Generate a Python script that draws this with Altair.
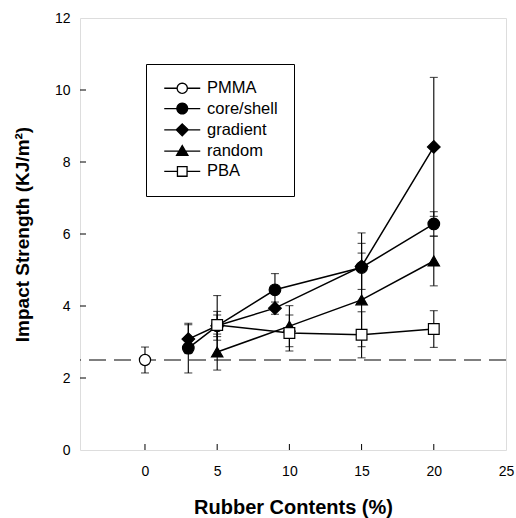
import math
import altair as alt
import pandas as pd

# ---- data ----
series_names = ["PMMA", "core/shell", "gradient", "random", "PBA"]

pmma_x = [0]
pmma_y = [2.5]
pmma_err = [0.36]

cs_x = [3, 5, 9, 15, 20]
cs_y = [2.83, 3.45, 4.45, 5.07, 6.28]
cs_err = [0.69, 0.40, 0.45, 0.96, 0.34]

gr_x = [3, 5, 9, 15, 20]
gr_y = [3.08, 3.45, 3.94, 5.10, 8.42]
gr_err = [0.40, 0.30, 0.17, 0.64, 1.93]

rd_x = [5, 10, 15, 20]
rd_y = [2.72, 3.44, 4.17, 5.25]
rd_err = [0.50, 0.57, 1.30, 0.69]

pba_x = [5, 10, 15, 20]
pba_y = [3.47, 3.25, 3.20, 3.36]
pba_err = [0.82, 0.50, 0.64, 0.51]

baseline_value = [2.5]
x_tick_values = [0, 5, 10, 15, 20, 25]
y_tick_values = [0, 2, 4, 6, 8, 10, 12]

series_data = [
    ("PMMA", pmma_x, pmma_y, pmma_err),
    ("core/shell", cs_x, cs_y, cs_err),
    ("gradient", gr_x, gr_y, gr_err),
    ("random", rd_x, rd_y, rd_err),
    ("PBA", pba_x, pba_y, pba_err),
]
# marker style per series: (shape, fill, size)
marker_style = {
    "PMMA": ("circle", "white", 125),
    "core/shell": ("circle", "black", 135),
    "gradient": ("diamond", "black", 160),
    "random": ("triangle-up", "black", 130),
    "PBA": ("square", "white", 115),
}

rows = []
for name, xs, ys, es in series_data:
    for x, y, e in zip(xs, ys, es):
        rows.append({"series": name, "x": x, "y": y, "lo": y - e, "hi": y + e})
df = pd.DataFrame(rows)

FONT = "Liberation Sans"
W, H = 426, 432

xscale = alt.Scale(domain=[-4.5, 25], nice=False, zero=False)
yscale = alt.Scale(domain=[0, 12], nice=False, zero=False)

xaxis = alt.Axis(values=x_tick_values, format="d", title="Rubber Contents (%)",
                 ticks=False, tickSize=0, domain=False, grid=False,
                 labelFont=FONT, labelFontSize=14, labelPadding=14, labelColor="black",
                 labelFlush=False, titleFont=FONT, titleFontSize=20, titleFontWeight="bold",
                 titlePadding=19, titleColor="black")
yaxis = alt.Axis(values=y_tick_values, format="d", title="Impact Strength (KJ/m²)",
                 ticks=False, tickSize=0, domain=False, grid=False,
                 labelFont=FONT, labelFontSize=14, labelPadding=10, labelColor="black",
                 labelFlush=False, titleFont=FONT, titleFontSize=19, titleFontWeight="bold",
                 titlePadding=22, titleColor="black")

X = alt.X("x:Q", scale=xscale, axis=xaxis)
Y = alt.Y("y:Q", scale=yscale, axis=yaxis)

base = alt.Chart(df)

baseline = alt.Chart(pd.DataFrame({"y": baseline_value})).mark_rule(
    color="black", strokeWidth=1.1, strokeDash=[17, 8]
).encode(y=alt.Y("y:Q", scale=yscale, axis=yaxis))

err_rule = base.mark_rule(color="black", strokeWidth=1.1).encode(
    x=X, y=alt.Y("lo:Q", scale=yscale, axis=yaxis), y2="hi:Q")
cap_lo = base.mark_tick(color="black", orient="horizontal", size=8, thickness=1.1).encode(
    x=X, y=alt.Y("lo:Q", scale=yscale, axis=yaxis))
cap_hi = base.mark_tick(color="black", orient="horizontal", size=8, thickness=1.1).encode(
    x=X, y=alt.Y("hi:Q", scale=yscale, axis=yaxis))

lines = base.transform_filter(alt.datum.series != "PMMA").mark_line(
    color="black", strokeWidth=1.5
).encode(x=X, y=Y, detail="series:N", order="x:Q")

point_layers = []
for name in series_names:
    shp, fil, sz = marker_style[name]
    point_layers.append(
        base.transform_filter(alt.datum.series == name).mark_point(
            shape=shp, filled=True, fill=fil, stroke="black", strokeWidth=1.2,
            size=sz, opacity=1
        ).encode(x=X, y=Y)
    )

# inward tick marks on the frame
xt = alt.Chart(pd.DataFrame({"v": x_tick_values[:-1]})).mark_rule(color="black", strokeWidth=1).encode(
    x=alt.X("v:Q", scale=xscale, axis=xaxis), y=alt.value(H), y2=alt.value(H - 6))
yt = alt.Chart(pd.DataFrame({"v": y_tick_values[1:-1]})).mark_rule(color="black", strokeWidth=1).encode(
    y=alt.Y("v:Q", scale=yscale, axis=yaxis), x=alt.value(0), x2=alt.value(6))

# ---- legend symbols: line segment + marker (custom paths) ----
def circle_path(cx, r, n=24):
    pts = []
    for i in range(n):
        a = 2 * math.pi * i / n
        pts.append(f"{cx + r * math.cos(a):.3f},{r * math.sin(a):.3f}")
    return "M" + "L".join(pts) + "Z"

cx = 2.0
sym_open_circle = f"M-1,0H{cx-0.85}M{cx+0.85},0H5" + circle_path(cx, 0.85)
sym_circle = "M-1,0H5" + circle_path(cx, 0.9)
sym_diamond = f"M-1,0H5M{cx},-1.0L{cx+1.0},0L{cx},1.0L{cx-1.0},0Z"
sym_triangle = f"M-1,0H5M{cx},-0.95L{cx+0.95},0.7L{cx-0.95},0.7Z"
sym_square = f"M-1,0H{cx-0.8}M{cx+0.8},0H5M{cx-0.8},-0.8H{cx+0.8}V0.8H{cx-0.8}Z"

legend_def = alt.Legend(
    orient="none", legendX=66, legendY=46, title=None,
    strokeColor="black", fillColor="white", padding=16,
    labelFont=FONT, labelFontSize=16.5, labelColor="black", labelOffset=28.5,
    rowPadding=3.3, symbolSize=144, symbolStrokeColor="black", symbolStrokeWidth=1.3,
)
legend_layer = alt.Chart(pd.DataFrame({"series": series_names})).transform_filter(
    "false"
).mark_point(filled=True, strokeWidth=1.3, size=144, opacity=1).encode(
    shape=alt.Shape("series:N", scale=alt.Scale(
        domain=series_names,
        range=[sym_open_circle, sym_circle, sym_diamond, sym_triangle, sym_square]),
        legend=legend_def),
    fill=alt.Fill("series:N", scale=alt.Scale(
        domain=series_names, range=["white", "black", "black", "black", "white"]),
        legend=legend_def),
    stroke=alt.Stroke("series:N", scale=alt.Scale(
        domain=series_names, range=["black"] * 5),
        legend=legend_def),
)

chart = alt.layer(
    baseline, err_rule, cap_lo, cap_hi, lines, *point_layers, xt, yt, legend_layer
).properties(
    width=W, height=H,
    autosize=alt.AutoSizeParams(type="none"),
    padding={"left": 80, "top": 18, "right": 10, "bottom": 68},
).configure_view(
    stroke="black", strokeWidth=1.5
).configure(background="white")

chart.save("out.html", embed_options={"renderer": "svg", "actions": False})
